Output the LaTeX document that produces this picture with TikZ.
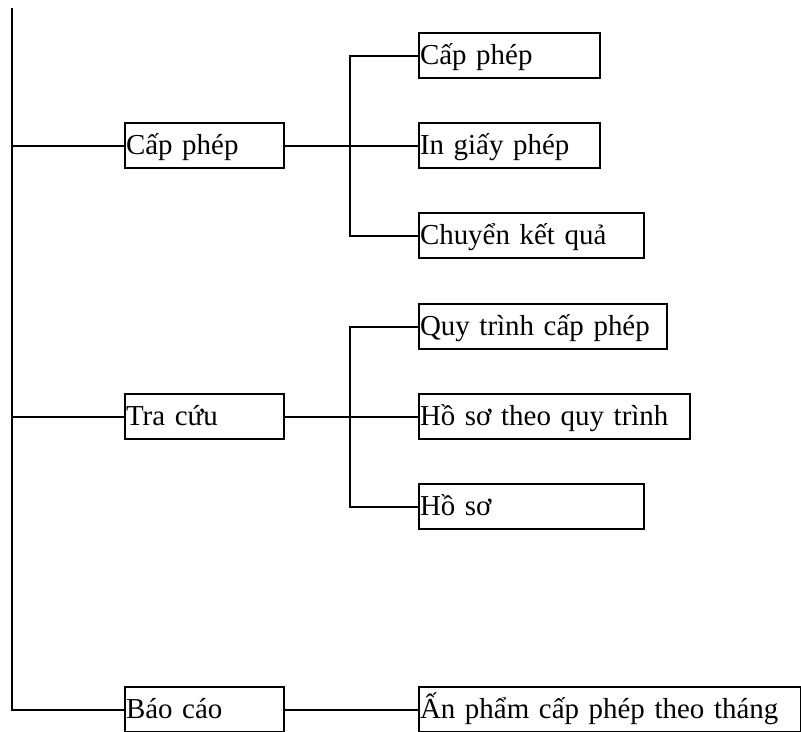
\documentclass[tikz,border=0pt]{standalone}
\usepackage{fontspec}
\setmainfont{Liberation Serif}
\begin{document}
\begin{tikzpicture}[x=0.75pt,y=-0.75pt,line width=1.5pt,
  box/.style={draw, rectangle, anchor=north west, inner xsep=0.75pt, inner ysep=0pt,
    text height=23.25pt, text depth=10.5pt, align=left,
    font=\fontsize{21.7}{26}\selectfont},
  wA/.style={text width=117.75pt},
  wB/.style={text width=134.25pt},
  wC/.style={text width=167.25pt},
  wD/.style={text width=184.5pt},
  wE/.style={text width=201.75pt},
  wF/.style={text width=285pt}]
\useasboundingbox (0,0) rectangle (801,732);

% first level
\node[box,wA] (cp) at (124,122) {Cấp phép};
\node[box,wA] (tc) at (124,393) {Tra cứu};
\node[box,wA] (bc) at (124,686) {Báo cáo};

% second level
\node[box,wB] (c1) at (418,32)  {Cấp phép};
\node[box,wB] (c2) at (418,122) {In giấy phép};
\node[box,wC] (c3) at (418,212) {Chuyển kết quả};
\node[box,wD] (t1) at (418,303) {Quy trình cấp phép};
\node[box,wE] (t2) at (418,393) {Hồ sơ theo quy trình};
\node[box,wC] (t3) at (418,483) {Hồ sơ};
\node[box,wF] (b1) at (418,686) {Ấn phẩm cấp phép theo tháng};

% main trunk
\coordinate (top) at (12,8);
\draw (top) |- (bc.west);
\draw (cp.west -| top) -- (cp.west);
\draw (tc.west -| top) -- (tc.west);

% branches
\coordinate (jA) at (350,0);
\coordinate (jB) at (350,0);
\draw (cp.east) -- (cp.east -| jA) -- (c2.west);
\draw (c1.west) -| (cp.east -| jA) |- (c3.west);
\draw (tc.east) -- (t2.west);
\draw (t1.west) -| (tc.east -| jB) |- (t3.west);
\draw (bc.east) -- (b1.west);
\end{tikzpicture}
\end{document}
